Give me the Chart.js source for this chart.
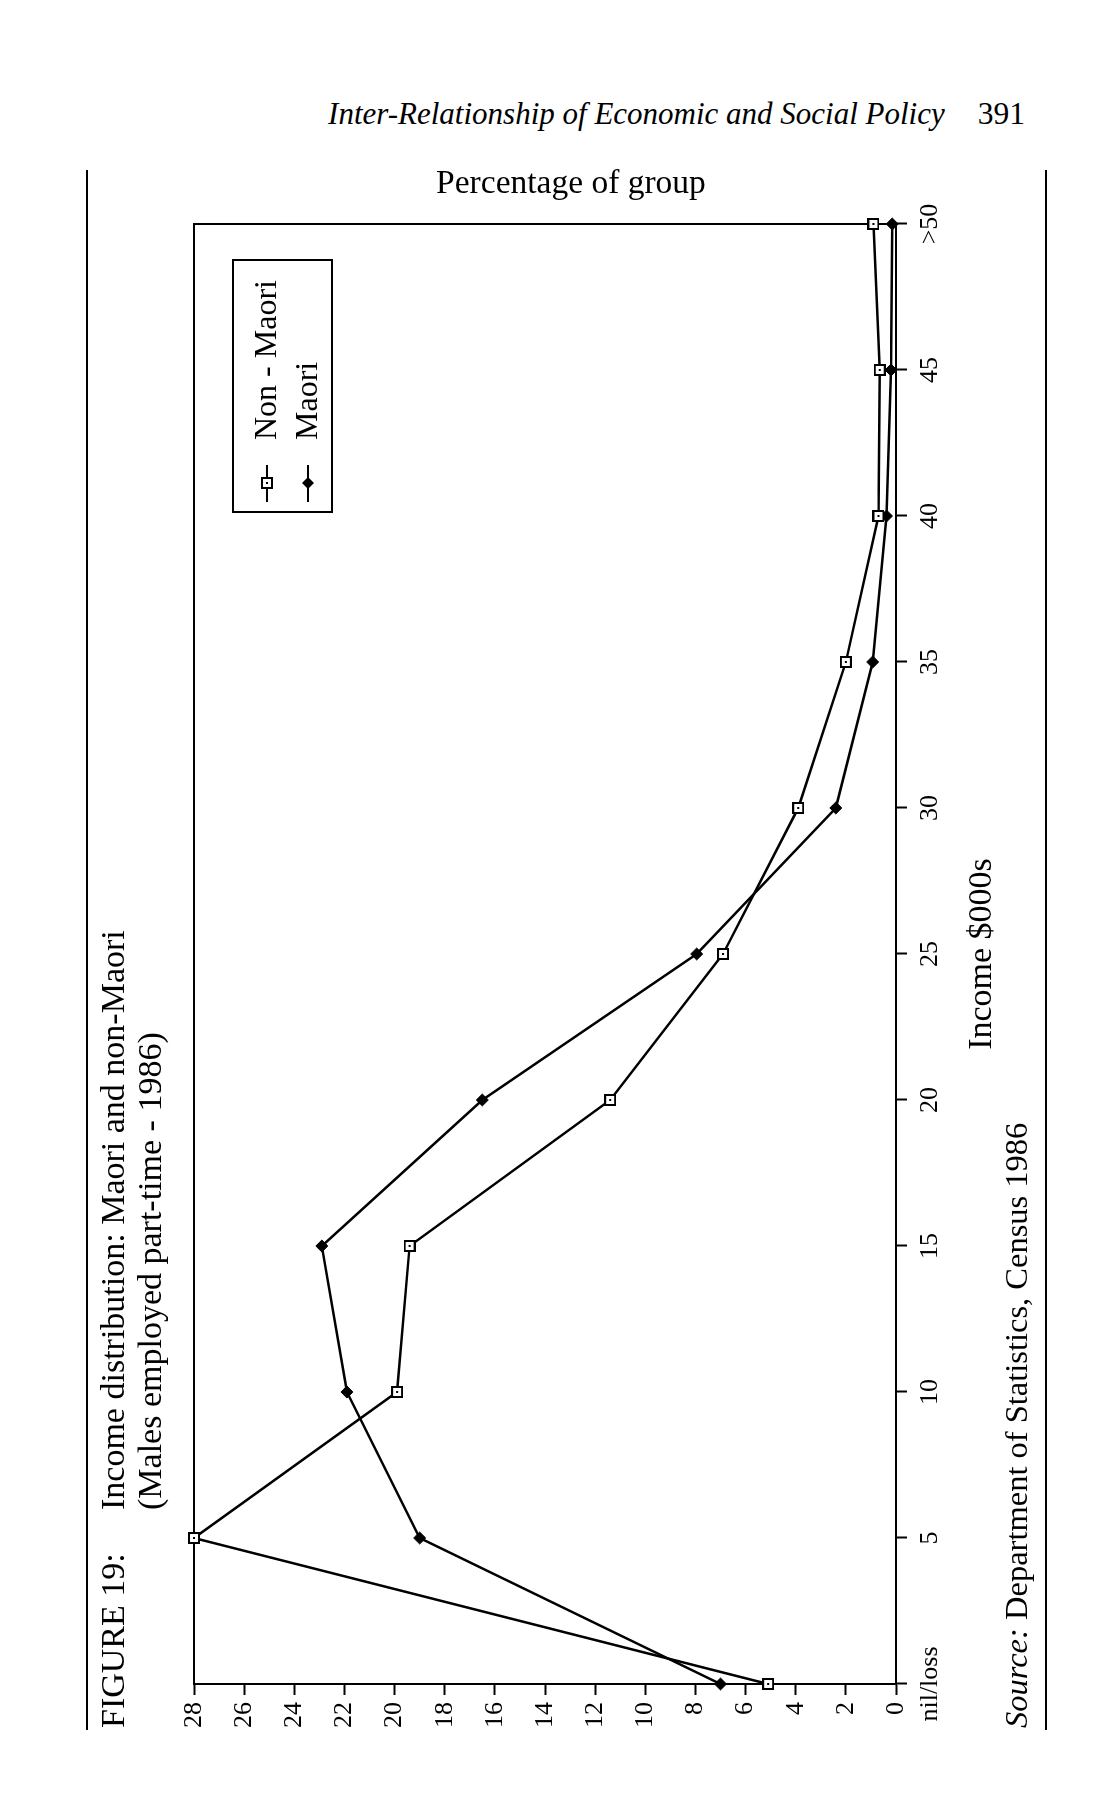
<!DOCTYPE html>
<html>
<head>
<meta charset="utf-8">
<script src="https://cdn.jsdelivr.net/npm/chart.js@4.4.1/dist/chart.umd.min.js"></script>
<style>
  html, body { margin: 0; padding: 0; background: #fff; }
  body { width: 1114px; height: 1820px; position: relative; overflow: hidden;
         font-family: 'Liberation Serif', 'DejaVu Serif', serif; color: #000; }
  #header { position: absolute; right: 89px; top: 94px; font-size: 31px; line-height: 40px; white-space: nowrap; }
  #header .pg { margin-left: 33px; font-size: 31.5px; }
  #ytitle { position: absolute; left: 571px; top: 162px; transform: translateX(-50%);
            font-size: 33.5px; line-height: 40px; white-space: nowrap; }
  /* the page is printed sideways: everything below is drawn upright, then turned */
  #rot { position: absolute; left: 0; top: 0; width: 1560px; height: 961px;
         transform-origin: 0 0; transform: translate(86px, 1730px) rotate(-90deg); }
  #rot canvas { position: absolute; left: 0; top: 0; }
  .rule { position: absolute; left: 0; width: 1560px; height: 0; border-top: 2px solid #000; }
  #caption { position: absolute; left: 2px; top: 8px; font-size: 34px; line-height: 37px; display: flex; white-space: nowrap; }
  #caption .fig { width: 218px; }
  #source { position: absolute; left: 2px; top: 910px; font-size: 32.5px; line-height: 40px; white-space: nowrap; }
</style>
</head>
<body>
<div id="header"><i>Inter-Relationship of Economic and Social Policy</i><span class="pg">391</span></div>

<div id="rot">
  <div class="rule" style="top:0"></div>
  <div class="rule" style="top:959px"></div>
  <canvas id="chart" width="1560" height="961"></canvas>
  <div id="caption">
    <div class="fig">FIGURE 19:</div>
    <div>Income distribution: Maori and non-Maori<br>(Males employed part-time - 1986)</div>
  </div>
  <div id="source"><i>Source:</i> Department of Statistics, Census 1986</div>
</div>

<div id="ytitle">Percentage of group</div>

<script>
// Income bands ($000s)
const incomeBands = ['nil/loss', '5', '10', '15', '20', '25', '30', '35', '40', '45', '>50'];

// Percentage of group in each band
const nonMaoriPct = [5.1, 28.0, 19.9, 19.4, 11.4, 6.9, 3.9, 2.0, 0.7, 0.65, 0.9];
const maoriPct = [7.0, 19.0, 21.9, 22.9, 16.5, 7.95, 2.4, 0.93, 0.38, 0.2, 0.15];

const seriesLabels = ['Non - Maori', 'Maori'];

// Percentage axis
const pctMin = 0;
const pctMax = 28;
const pctStep = 2;

const serif = "'Liberation Serif', 'DejaVu Serif', serif";
Chart.defaults.font.family = serif;
Chart.defaults.color = '#000';

// open square with a small dot, as in the print
function squareMarker() {
    const c = document.createElement('canvas');
    c.width = 12; c.height = 12;
    const g = c.getContext('2d');
    g.fillStyle = '#fff';
    g.fillRect(1, 1, 10, 10);
    g.strokeStyle = '#000';
    g.lineWidth = 2;
    g.strokeRect(1, 1, 10, 10);
    g.fillStyle = '#000';
    g.fillRect(5, 5, 2, 2);
    return c;
}

// box around the plot area
const plotFrame = {
    id: 'plotFrame',
    beforeDatasetsDraw(chart) {
        const { ctx, chartArea: a } = chart;
        ctx.save();
        ctx.lineWidth = 2;
        ctx.strokeStyle = '#000';
        ctx.strokeRect(a.left, a.top, a.right - a.left, a.bottom - a.top);
        ctx.restore();
    }
};

// boxed legend inside the plot, top right
const boxLegend = {
    id: 'boxLegend',
    afterDraw(chart) {
        const { ctx, chartArea } = chart;
        const w = 252, h = 99;
        const x0 = chartArea.right - 36 - w;
        const y0 = chartArea.top + 39;
        ctx.save();
        ctx.fillStyle = '#fff';
        ctx.fillRect(x0, y0, w, h);
        ctx.lineWidth = 2;
        ctx.strokeStyle = '#000';
        ctx.strokeRect(x0, y0, w, h);
        chart.data.datasets.forEach((ds, i) => {
            const cy = y0 + 34 + i * 41;
            ctx.lineWidth = 2;
            ctx.strokeStyle = '#000';
            ctx.beginPath();
            ctx.moveTo(x0 + 10, cy);
            ctx.lineTo(x0 + 47, cy);
            ctx.stroke();
            if (ds.pointStyle instanceof HTMLCanvasElement) {
                ctx.drawImage(ds.pointStyle, x0 + 29 - 6, cy - 6);
            } else {
                const r = ds.pointRadius;
                ctx.fillStyle = '#000';
                ctx.beginPath();
                ctx.moveTo(x0 + 29, cy - r);
                ctx.lineTo(x0 + 29 + r, cy);
                ctx.lineTo(x0 + 29, cy + r);
                ctx.lineTo(x0 + 29 - r, cy);
                ctx.closePath();
                ctx.fill();
            }
            ctx.fillStyle = '#000';
            ctx.font = '32px ' + serif;
            ctx.textBaseline = 'middle';
            ctx.fillText(ds.label, x0 + 72, cy + 1);
        });
        ctx.restore();
    }
};

const axisLine = { display: true, color: '#000', width: 2 };
const tickMarks = { display: true, drawOnChartArea: false, drawTicks: true, tickLength: 11, tickColor: '#000', tickWidth: 2 };

new Chart(document.getElementById('chart'), {
    type: 'line',
    data: {
        labels: incomeBands,
        datasets: [
            {
                label: seriesLabels[0],
                data: nonMaoriPct,
                borderColor: '#000',
                borderWidth: 2.5,
                pointStyle: squareMarker(),
                pointRadius: 6,
                tension: 0,
                clip: false
            },
            {
                label: seriesLabels[1],
                data: maoriPct,
                borderColor: '#000',
                borderWidth: 2.5,
                pointStyle: 'rectRot',
                pointRadius: 6,
                pointBackgroundColor: '#000',
                pointBorderColor: '#000',
                pointBorderWidth: 1,
                tension: 0,
                clip: false
            }
        ]
    },
    options: {
        responsive: false,
        animation: false,
        layout: { padding: { top: 108, right: 54, left: 0, bottom: 45 } },
        plugins: {
            legend: { display: false },
            tooltip: { enabled: false }
        },
        scales: {
            x: {
                type: 'category',
                offset: false,
                grid: tickMarks,
                border: axisLine,
                ticks: { autoSkip: false, maxRotation: 0, padding: 8, font: { size: 26 }, color: '#000' },
                title: { display: true, text: 'Income $000s', font: { size: 34 }, color: '#000', padding: { top: 0, bottom: 0 } },
                afterFit(scale) { scale.height = 106; }
            },
            y: {
                min: pctMin,
                max: pctMax,
                grid: tickMarks,
                border: axisLine,
                ticks: { stepSize: pctStep, padding: 7, font: { size: 26 }, color: '#000' },
                afterFit(scale) { scale.width = 46; }
            }
        }
    },
    plugins: [plotFrame, boxLegend]
});
</script>
</body>
</html>
